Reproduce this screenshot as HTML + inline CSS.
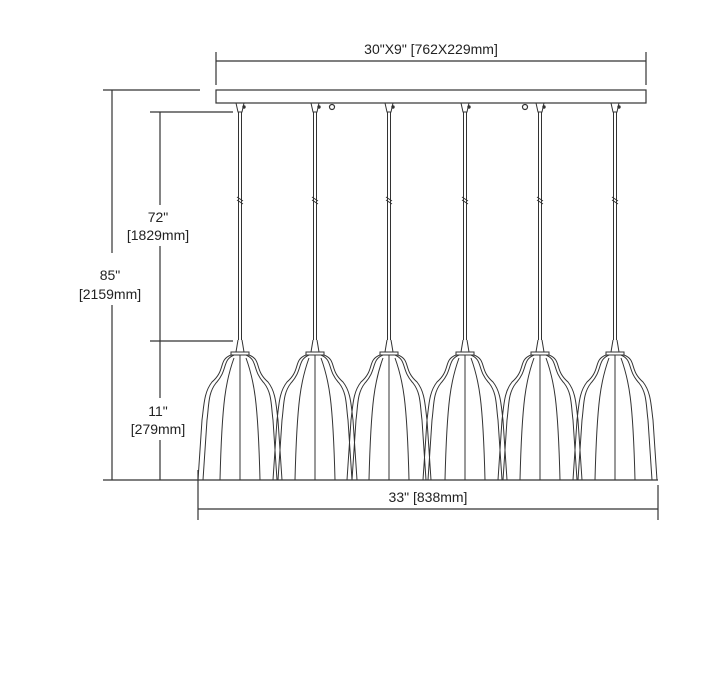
<!DOCTYPE html>
<html><head><style>
html,body{margin:0;padding:0;background:#fff;}
svg{display:block;}
text{font-family:"Liberation Sans",sans-serif;font-size:14px;fill:#222;}
</style></head><body>
<svg width="722" height="700" viewBox="0 0 722 700" xmlns="http://www.w3.org/2000/svg">
<defs>
<g id="pend" stroke="#333" stroke-width="1" fill="none">
<path d="M-4 103 L-2 112 L2 112 L4 103"/>
<circle cx="4" cy="107" r="1.2" fill="#333"/>
<line x1="-1.5" y1="112" x2="-1.5" y2="340"/>
<line x1="1.5" y1="112" x2="1.5" y2="340"/>
<path d="M-3 197 L3 201 M-3 200 L3 204"/>
<path d="M-2 340 L-4 352 L4 352 L2 340"/>
<rect x="-9" y="352" width="18" height="3"/>
<path d="M-9 355 C-22 360 -14 370 -28 382 C-36 392 -36 405 -38 420 L-42 480"/>
<path d="M-6 355 C-18 360 -12 370 -24 383 C-32 393 -31 405 -33 420 L-37 480"/>
<path d="M9 355 C22 360 14 370 28 382 C36 392 36 405 38 420 L42 480"/>
<path d="M6 355 C18 360 12 370 24 383 C32 393 31 405 33 420 L37 480"/>
<path d="M-6 358 C-14 380 -18 400 -20 480"/>
<path d="M6 358 C14 380 18 400 20 480"/>
<line x1="0" y1="355" x2="0" y2="480"/>
</g>
</defs>
<g stroke="#333" stroke-width="1.2" fill="none">
<line x1="216" y1="61" x2="646" y2="61"/>
<line x1="216" y1="52" x2="216" y2="85"/>
<line x1="646" y1="52" x2="646" y2="85"/>
<rect x="216" y="90" width="430" height="13"/>
<circle cx="332" cy="107" r="2.5"/>
<circle cx="525" cy="107" r="2.5"/>
<line x1="103" y1="90" x2="200" y2="90"/>
<line x1="103" y1="480" x2="658" y2="480"/>
<line x1="112" y1="90" x2="112" y2="253"/>
<line x1="112" y1="305" x2="112" y2="480"/>
<line x1="150" y1="112" x2="233" y2="112"/>
<line x1="150" y1="341" x2="233" y2="341"/>
<line x1="160" y1="112" x2="160" y2="205"/>
<line x1="160" y1="246" x2="160" y2="398"/>
<line x1="160" y1="440" x2="160" y2="480"/>
<line x1="198" y1="470" x2="198" y2="520"/>
<line x1="658" y1="485" x2="658" y2="520"/>
<line x1="198" y1="509" x2="658" y2="509"/>
</g>
<text x="431" y="54" text-anchor="middle">30"X9" [762X229mm]</text>
<text x="158" y="222" text-anchor="middle">72"</text>
<text x="158" y="240" text-anchor="middle">[1829mm]</text>
<text x="110" y="280" text-anchor="middle">85"</text>
<text x="110" y="299" text-anchor="middle">[2159mm]</text>
<text x="158" y="416" text-anchor="middle">11"</text>
<text x="158" y="434" text-anchor="middle">[279mm]</text>
<text x="428" y="502" text-anchor="middle">33" [838mm]</text>
<use href="#pend" transform="translate(240,0)"/>
<use href="#pend" transform="translate(315,0)"/>
<use href="#pend" transform="translate(389,0)"/>
<use href="#pend" transform="translate(465,0)"/>
<use href="#pend" transform="translate(540,0)"/>
<use href="#pend" transform="translate(615,0)"/>
</svg>
</body></html>
